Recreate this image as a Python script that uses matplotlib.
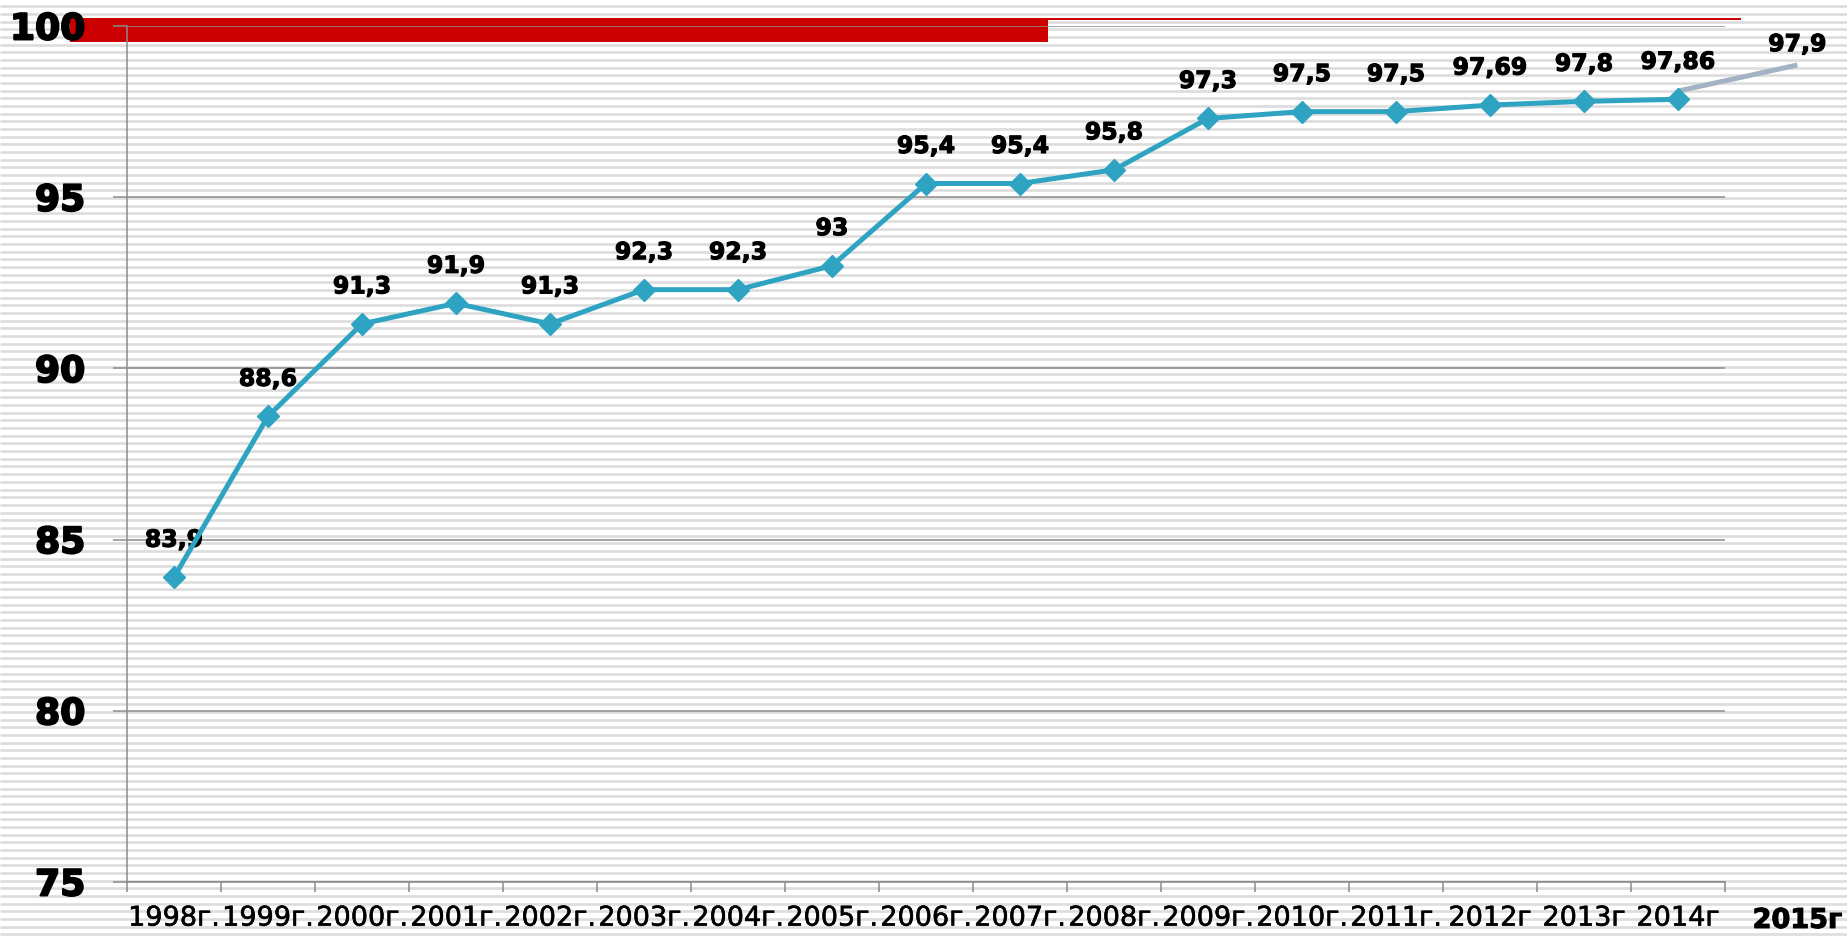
import matplotlib
matplotlib.use('Agg')
import matplotlib.pyplot as plt
import matplotlib.patheffects as pe
import numpy as np

# data
years = ['1998г.', '1999г.', '2000г.', '2001г.', '2002г.', '2003г.', '2004г.',
         '2005г.', '2006г.', '2007г.', '2008г.', '2009г.', '2010г.', '2011г.',
         '2012г', '2013г', '2014г']
values = [83.9, 88.6, 91.3, 91.9, 91.3, 92.3, 92.3, 93, 95.4, 95.4, 95.8,
          97.3, 97.5, 97.5, 97.69, 97.8, 97.86]
labels = ['83,9', '88,6', '91,3', '91,9', '91,3', '92,3', '92,3', '93', '95,4',
          '95,4', '95,8', '97,3', '97,5', '97,5', '97,69', '97,8', '97,86']
forecast_year = '2015г'
forecast_label = '97,9'
forecast_x = [16, 17.27]
forecast_y = [98.1, 98.86]
y_ticks = [75, 80, 85, 90, 95, 100]

W, H = 1847, 939
fig = plt.figure(figsize=(W / 100, H / 100), dpi=100)
fig.patch.set_facecolor('white')

# background stripes + red bar (behind the chart)
bg = fig.add_axes([0, 0, 1, 1], zorder=-1)
bg.set_xlim(0, W)
bg.set_ylim(H, 0)
bg.axis('off')
stripe_y = np.arange(6.3, H, 7.67)
bg.hlines(stripe_y, 0, W, colors='#dddddd', linewidth=2.7 * 0.72, zorder=1)
bg.add_patch(plt.Rectangle((70, 18), 978, 24, color='#cc0000', lw=0, zorder=3))
bg.plot([70, 1741], [19, 19], color='#cc0000', lw=2 * 0.72,
        solid_capstyle='butt', zorder=3)

left, right, top, bottom = 127, 1725, 26, 882
ax = fig.add_axes([left / W, 1 - bottom / H, (right - left) / W, (bottom - top) / H])
ax.patch.set_alpha(0)

heavy = [pe.withStroke(linewidth=1.4, foreground='black')]
semi = [pe.withStroke(linewidth=0.8, foreground='black')]
thin = [pe.withStroke(linewidth=0.4, foreground='black')]

x = np.arange(len(years))
grid_c = '#8c8c8c'
ax.set_ylim(75, 100)
ax.set_xlim(-0.5, len(years) - 0.5)
ax.set_yticks(y_ticks)
ax.set_yticklabels([str(t) for t in y_ticks], fontsize=26, fontweight='bold')
for t in ax.get_yticklabels():
    t.set_path_effects(heavy)
ax.yaxis.grid(True, color=grid_c, linewidth=1.1)
ax.set_axisbelow(True)

ax.set_xticks(np.arange(len(years) + 1) - 0.5)
ax.set_xticklabels([])
ax.set_xticks(x, minor=True)
ax.set_xticklabels(years, minor=True, fontsize=19.5)
for t in ax.get_xticklabels(minor=True):
    t.set_path_effects(thin)
ax.tick_params(axis='x', which='major', length=7.5, color=grid_c, width=1.1)
ax.tick_params(axis='x', which='minor', length=0, pad=17)
ax.tick_params(axis='y', length=10, color=grid_c, width=1.1, pad=20)

for s in ['top', 'right']:
    ax.spines[s].set_visible(False)
for s in ['left', 'bottom']:
    ax.spines[s].set_color(grid_c)
    ax.spines[s].set_linewidth(1.1)

ax.plot(forecast_x, forecast_y, color='#a3b3c4', lw=3.6, clip_on=False,
        solid_capstyle='butt', zorder=3)
ax.plot(x, values, color='#2fa4c2', lw=3.6, marker='D', markersize=11.5,
        clip_on=False, zorder=4)

for xi, v, t in zip(x, values, labels):
    ax.annotate(t, (xi, v), xytext=(0, 27), textcoords='offset points',
                ha='center', va='center', fontsize=17, fontweight='bold',
                path_effects=semi)

ax.annotate(forecast_label, (forecast_x[1], forecast_y[1]), xytext=(0, 15),
            textcoords='offset points', ha='center', va='center',
            fontsize=17, fontweight='bold', annotation_clip=False,
            path_effects=semi)
ax.annotate(forecast_year, (forecast_x[1], 75), xytext=(0, -28),
            textcoords='offset points', ha='center', va='center',
            fontsize=19.5, fontweight='bold', annotation_clip=False,
            path_effects=semi)

fig.savefig('out.png', dpi=100)
